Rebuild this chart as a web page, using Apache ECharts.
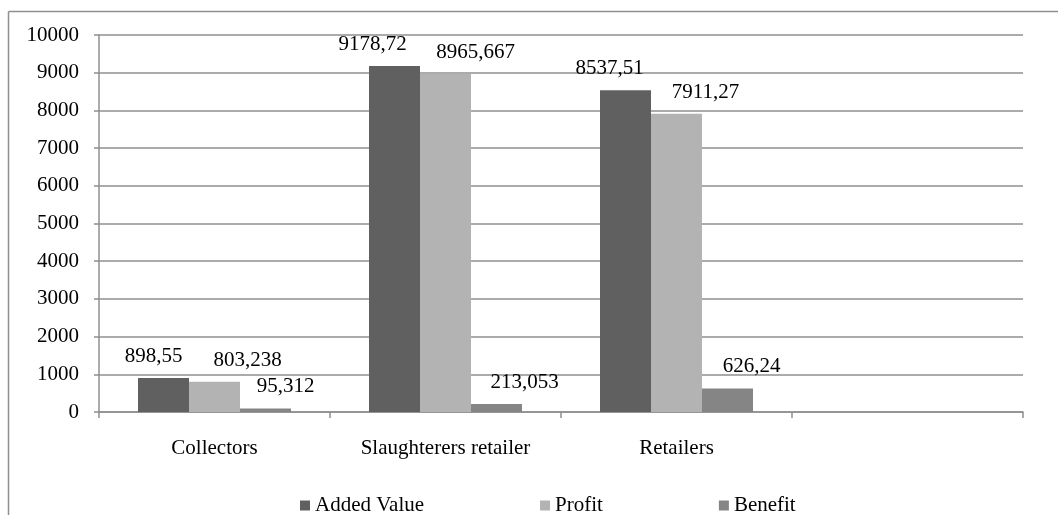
<!DOCTYPE html>
<html>
<head>
<meta charset="utf-8">
<style>
  html, body { margin: 0; padding: 0; background: #ffffff; }
  #chart { width: 1058px; height: 515px; }
</style>
<script src="https://cdn.jsdelivr.net/npm/echarts@6/dist/echarts.min.js"></script>
</head>
<body>
<div id="chart"></div>
<script>
// Actors in the chain (the fourth slot is left empty)
const categories = ['Collectors', 'Slaughterers retailer', 'Retailers', ''];

// Values per actor
const addedValue = [898.55, 9178.72, 8537.51, null];
const profit = [803.238, 8965.667, 7911.27, null];
const benefit = [95.312, 213.053, 626.24, null];

const seriesNames = ['Added Value', 'Profit', 'Benefit'];
const yTicks = { min: 0, max: 10000, step: 1000 };

// Appearance
const colors = ['#606060', '#b3b3b3', '#858585'];
const lineGray = '#8f8f8f';
const serif = "'Liberation Serif', 'Times New Roman', serif";
// horizontal nudges of the value labels, per series and per actor
const labelNudge = [
  [-10, -22, -16, 0],
  [33, 30, 29, 0],
  [20, 28, 24, 0]
];

const chart = echarts.init(document.getElementById('chart'), null, { renderer: 'canvas' });

function decimalComma(v) {
  return String(v).replace('.', ',');
}

function buildSeries(name, values, idx) {
  return {
    name: name,
    type: 'bar',
    barWidth: 51,
    barGap: '0%',
    itemStyle: { color: colors[idx] },
    label: {
      show: true,
      position: 'top',
      distance: 11,
      color: '#000',
      fontFamily: serif,
      fontSize: 21,
      formatter: p => decimalComma(p.value)
    },
    data: values.map((v, i) => ({
      value: v,
      label: { offset: [labelNudge[idx][i], 0] }
    }))
  };
}

const option = {
  animation: false,
  backgroundColor: '#ffffff',
  textStyle: { fontFamily: serif },
  graphic: [
    { type: 'line', shape: { x1: 8.5, y1: 11.5, x2: 1058, y2: 11.5 }, style: { stroke: lineGray, lineWidth: 1.5 } },
    { type: 'line', shape: { x1: 8.5, y1: 11.5, x2: 8.5, y2: 515 }, style: { stroke: lineGray, lineWidth: 1.5 } }
  ],
  grid: { left: 99, right: 35, top: 35, bottom: 103, containLabel: false },
  legend: {
    left: 300,
    top: 495,
    padding: 0,
    itemGap: 116,
    itemWidth: 10,
    itemHeight: 10,
    icon: 'rect',
    textStyle: { fontFamily: serif, fontSize: 21, color: '#000' },
    data: seriesNames
  },
  xAxis: {
    type: 'category',
    data: categories,
    axisLine: { lineStyle: { color: lineGray, width: 1.5 } },
    axisTick: { show: true, length: 6, alignWithLabel: false, lineStyle: { color: lineGray, width: 1.5 } },
    axisLabel: { color: '#000', fontSize: 21, fontFamily: serif, margin: 26 }
  },
  yAxis: {
    type: 'value',
    min: yTicks.min,
    max: yTicks.max,
    interval: yTicks.step,
    axisLine: { show: true, lineStyle: { color: lineGray, width: 1.5 } },
    axisTick: { show: true, length: 5, lineStyle: { color: lineGray, width: 1.5 } },
    splitLine: { show: true, lineStyle: { color: lineGray, width: 1.5 } },
    axisLabel: { color: '#000', fontSize: 21, fontFamily: serif, margin: 20, formatter: v => String(v) }
  },
  series: [
    buildSeries(seriesNames[0], addedValue, 0),
    buildSeries(seriesNames[1], profit, 1),
    buildSeries(seriesNames[2], benefit, 2)
  ]
};

chart.setOption(option);
</script>
</body>
</html>
